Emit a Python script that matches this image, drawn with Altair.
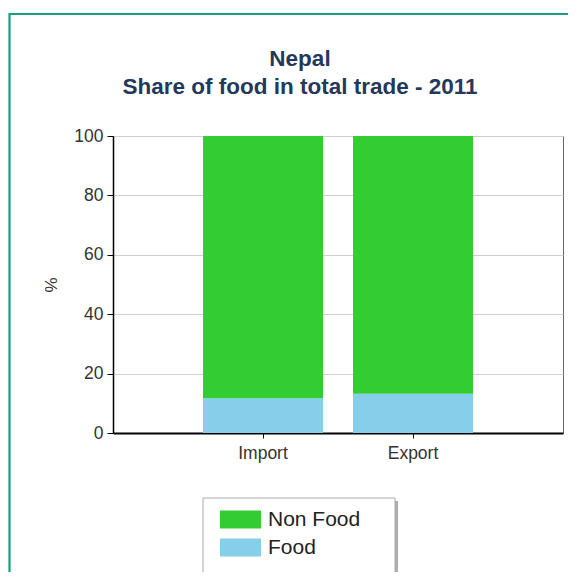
import altair as alt
import pandas as pd

flows = ["Import", "Export"]
food_share = [11.7, 13.2]
non_food_share = [88.3, 86.8]
series = ["Non Food", "Food"]
series_colors = ["#33cc33", "#87ceeb"]
y_ticks = [0, 20, 40, 60, 80, 100]
title_lines = ["Nepal", "Share of food in total trade - 2011"]

rows = []
for i, f in enumerate(flows):
    rows.append({"flow": f, "type": "Food", "value": food_share[i], "stack": 0})
    rows.append({"flow": f, "type": "Non Food", "value": non_food_share[i], "stack": 1})
df = pd.DataFrame(rows)

FONT = "Liberation Sans"

bars = alt.Chart(df).mark_bar().encode(
    x=alt.X("flow:N", sort=flows, title=None,
            scale=alt.Scale(paddingInner=0.2, paddingOuter=0.6),
            axis=alt.Axis(labelAngle=0, labelFontSize=17.5, labelFont=FONT, labelColor="#333",
                          labelPadding=6, tickSize=5, tickColor="#000", domainColor="#000",
                          domainWidth=2, grid=False)),
    y=alt.Y("value:Q", stack="zero", title="%",
            scale=alt.Scale(domain=[0, 100], nice=False),
            axis=alt.Axis(values=y_ticks, labelFontSize=17.5, labelFont=FONT, labelColor="#333",
                          labelPadding=4, tickSize=6, tickColor="#000", domainColor="#000",
                          domainWidth=1.5, gridColor="#d0d0d0", titleFont=FONT, titleFontSize=17,
                          titleFontWeight="normal", titleColor="#333", titlePadding=13)),
    color=alt.Color("type:N", title=None,
                    scale=alt.Scale(domain=series, range=series_colors),
                    legend=alt.Legend(orient="none", legendX=117, legendY=373, padding=0,
                                      symbolType="M-2,-0.88H2V0.88H-2Z", symbolSize=420,
                                      symbolStrokeWidth=0, labelFontSize=21, labelFont=FONT,
                                      labelColor="#222", labelOffset=17, rowPadding=6)),
    order=alt.Order("stack:Q"),
)

one = alt.Data(values=[{"k": 1}])

frame = alt.Chart(one).mark_rect(filled=False, stroke="#1a9e83", strokeWidth=2.2).encode(
    x=alt.value(-103.5), y=alt.value(-122), x2=alt.value(800), y2=alt.value(800)
)
legend_shadow = alt.Chart(one).mark_rect(fill="#9a9a9a", opacity=0.8).encode(
    x=alt.value(93), y=alt.value(365), x2=alt.value(285), y2=alt.value(441)
)
legend_box = alt.Chart(one).mark_rect(fill="white", stroke="#aaaaaa", strokeWidth=1).encode(
    x=alt.value(90), y=alt.value(362), x2=alt.value(282), y2=alt.value(438)
)

chart = alt.layer(frame, legend_shadow, legend_box, bars).properties(
    width=450, height=297,
    autosize=alt.AutoSizeParams(type="none"),
    padding={"left": 105, "top": 128, "right": 5, "bottom": 139},
    background="white",
    title=alt.TitleParams(title_lines, fontSize=22.5, font=FONT, fontWeight="bold",
                          color="#24385b", anchor="middle", frame="group", dx=-38,
                          offset=0, dy=86, lineHeight=28),
).configure_view(stroke="#666666", strokeWidth=1)

chart.save("out.html", embed_options={"renderer": "svg", "actions": False})
